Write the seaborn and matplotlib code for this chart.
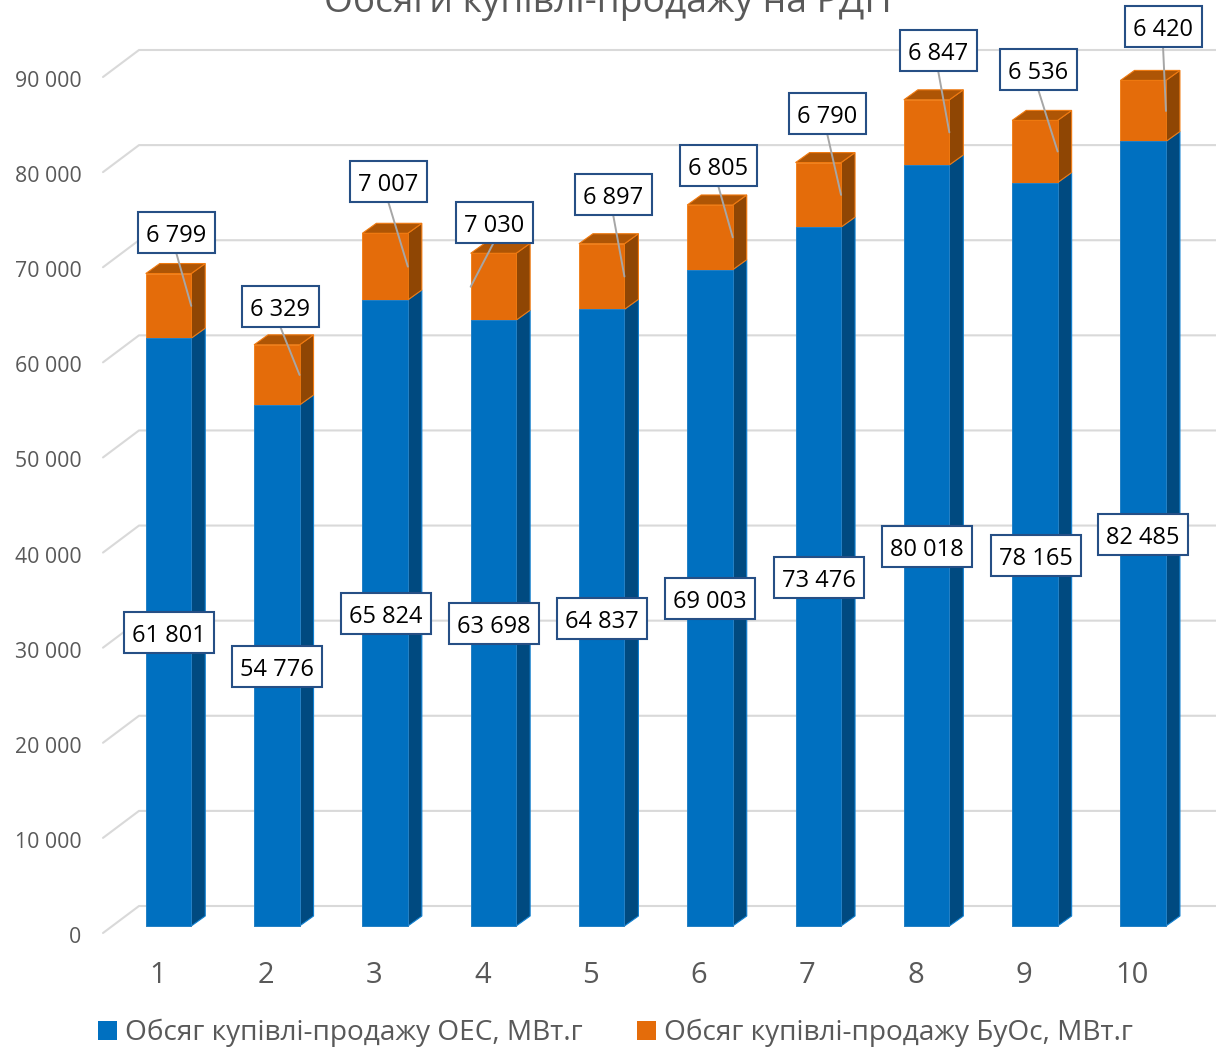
import matplotlib
matplotlib.use("Agg")
import matplotlib.pyplot as plt
import matplotlib.transforms as mtrans
from matplotlib.patches import Polygon, Patch, Rectangle
from matplotlib.lines import Line2D
import numpy as np
import pandas as pd
import seaborn as sns

# ---- data ----
categories = ["1", "2", "3", "4", "5", "6", "7", "8", "9", "10"]
oes_values = [61801, 54776, 65824, 63698, 64837, 69003, 73476, 80018, 78165, 82485]
buos_values = [6799, 6329, 7007, 7030, 6897, 6805, 6790, 6847, 6536, 6420]
y_ticks = [0, 10000, 20000, 30000, 40000, 50000, 60000, 70000, 80000, 90000]
title_text = "Обсяги купівлі-продажу на РДН"
series_names = ["Обсяг купівлі-продажу ОЕС, МВт.г", "Обсяг купівлі-продажу БуОс, МВт.г"]

# ---- layout (pixels from the top-left of the picture) ----
W, H = 1216, 1049
oes_label_centres = [(169, 632), (277, 666), (386, 613), (494, 623), (602, 618),
                     (710, 598), (819, 577), (927, 546), (1036, 555), (1143, 534)]
buos_label_centres = [(176, 232), (280, 306), (388, 181), (494, 222), (613, 194),
                      (718, 165), (827, 113), (938, 50), (1038, 69), (1163, 26)]
leader_on_left = [False, False, False, True, False, False, False, False, False, False]

C_BLUE, C_BLUE_SIDE = "#0070C0", "#004A80"
C_OR, C_OR_SIDE, C_OR_TOP = "#E46C0A", "#8F4604", "#AE5505"
C_TEXT, C_GRID, C_BOX = "#595959", "#D9D9D9", "#264F85"
FONT = ["Open Sans", "DejaVu Sans"]

sns.set_theme(style="white")
plt.rcParams["font.family"] = FONT

fig = plt.figure(figsize=(W / 100, H / 100), dpi=100, facecolor="white")
ax = fig.add_axes([103 / W, (H - 933) / H, (1180 - 103) / W, 856 / H])

df = pd.DataFrame({"cat": categories, "oes": oes_values, "buos": buos_values})
df["total"] = df["oes"] + df["buos"]

bar_w = 0.42
sns.barplot(data=df, x="cat", y="total", color=C_OR, saturation=1, width=bar_w, ax=ax, zorder=3)
sns.barplot(data=df, x="cat", y="oes", color=C_BLUE, saturation=1, width=bar_w, ax=ax, zorder=3)

xlim = ((103 - 157.5) / 108.3, (1180 - 157.5) / 108.3)
ax.set_xlim(*xlim)
ax.set_ylim(0, 90000)
ax.set_xlabel("")
ax.set_ylabel("")
ax.patch.set_alpha(0)
for s in ax.spines.values():
    s.set_visible(False)

ax.set_yticks(y_ticks)
ax.set_yticklabels([f"{v:,}".replace(",", " ") for v in y_ticks])
ax.tick_params(axis="y", length=0, pad=15.5, labelsize=15.3, labelcolor=C_TEXT)
ax.tick_params(axis="x", length=0, pad=20, labelsize=21, labelcolor=C_TEXT)
ax.grid(False)
for lab in ax.get_yticklabels():
    lab.set_transform(lab.get_transform() + mtrans.Affine2D().translate(0, -2))

# depth offsets, pixels (matplotlib y is upward)
wall = (36, 27)
bar_shift = (11, 7)
side = (14, 10)

fig.canvas.draw()
to_px = ax.transData.transform
shift_tr = mtrans.Affine2D().translate(*bar_shift)
ID = mtrans.IdentityTransform()

for p in ax.patches:
    p.set_transform(ax.transData + shift_tr)
    p.set_clip_on(False)
    is_blue = matplotlib.colors.to_hex(p.get_facecolor()).upper() == C_BLUE
    p.set_edgecolor("#1583D6" if is_blue else "#F07A10")
    p.set_linewidth(0.6)

# walls: gridlines and floor diagonals, behind the bars
for v in y_ticks:
    x0, y0 = to_px((xlim[0], v))
    ax.add_artist(Line2D([x0, x0 + wall[0], W], [y0, y0 + wall[1], y0 + wall[1]],
                         transform=ID, color=C_GRID, lw=1.5, zorder=0.5, clip_on=False))


def face(points, color, edge):
    ax.add_patch(Polygon(points, closed=True, facecolor=color, edgecolor=edge, lw=0.8,
                         transform=ID, clip_on=False, zorder=2.5))


for i, (a, b) in enumerate(zip(oes_values, buos_values)):
    xl, y0 = to_px((i - bar_w / 2, 0)) + bar_shift
    xr, y1 = to_px((i + bar_w / 2, a)) + bar_shift
    _, y2 = to_px((i, a + b)) + bar_shift
    dx, dy = side
    face([(xr, y0), (xr + dx, y0 + dy), (xr + dx, y1 + dy), (xr, y1)], C_BLUE_SIDE, "#0F7FD0")
    face([(xr, y1), (xr + dx, y1 + dy), (xr + dx, y2 + dy), (xr, y2)], C_OR_SIDE, "#F07A10")
    face([(xl, y2), (xr, y2), (xr + dx, y2 + dy), (xl + dx, y2 + dy)], C_OR_TOP, "#F07A10")


def fmt(v):
    return f"{v:,}".replace(",", " ")


def label(text, cx, cy, bw):
    bh = 41
    fig.add_artist(Rectangle((cx - bw / 2, H - cy - bh / 2), bw, bh, transform=ID, facecolor="white",
                             edgecolor=C_BOX, linewidth=1.5, zorder=6))
    fig.text(cx / W, 1 - (cy + 1) / H, text, ha="center", va="center_baseline", fontsize=17,
             color="black", zorder=7)


# value labels
for i, (a, b) in enumerate(zip(oes_values, buos_values)):
    cx, cy = oes_label_centres[i]
    label(fmt(a), cx, cy, 90)
    cx, cy = buos_label_centres[i]
    edge = i - bar_w / 2 if leader_on_left[i] else i + bar_w / 2
    ex, ey = to_px((edge, a + b / 2)) + bar_shift
    fig.add_artist(Line2D([ex, cx], [ey, H - cy - 20], transform=ID,
                          color="#A6A6A6", lw=1.4, zorder=5))
    label(fmt(b), cx, cy, 77)

fig.text(608 / W, 1 - 12 / H, title_text, ha="center", va="baseline", fontsize=26.8, color=C_TEXT)

handles = [Patch(facecolor=C_BLUE, edgecolor="none"), Patch(facecolor=C_OR, edgecolor="none")]
fig.legend(handles, series_names, loc="center", bbox_to_anchor=(615.5 / W, 1 - 1033 / H), ncols=2,
           frameon=False, fontsize=20.2, labelcolor=C_TEXT, handlelength=0.68, handleheight=0.68,
           handletextpad=0.29, columnspacing=1.92, borderpad=0, borderaxespad=0)

fig.savefig("out.png", dpi=100, facecolor="white")
